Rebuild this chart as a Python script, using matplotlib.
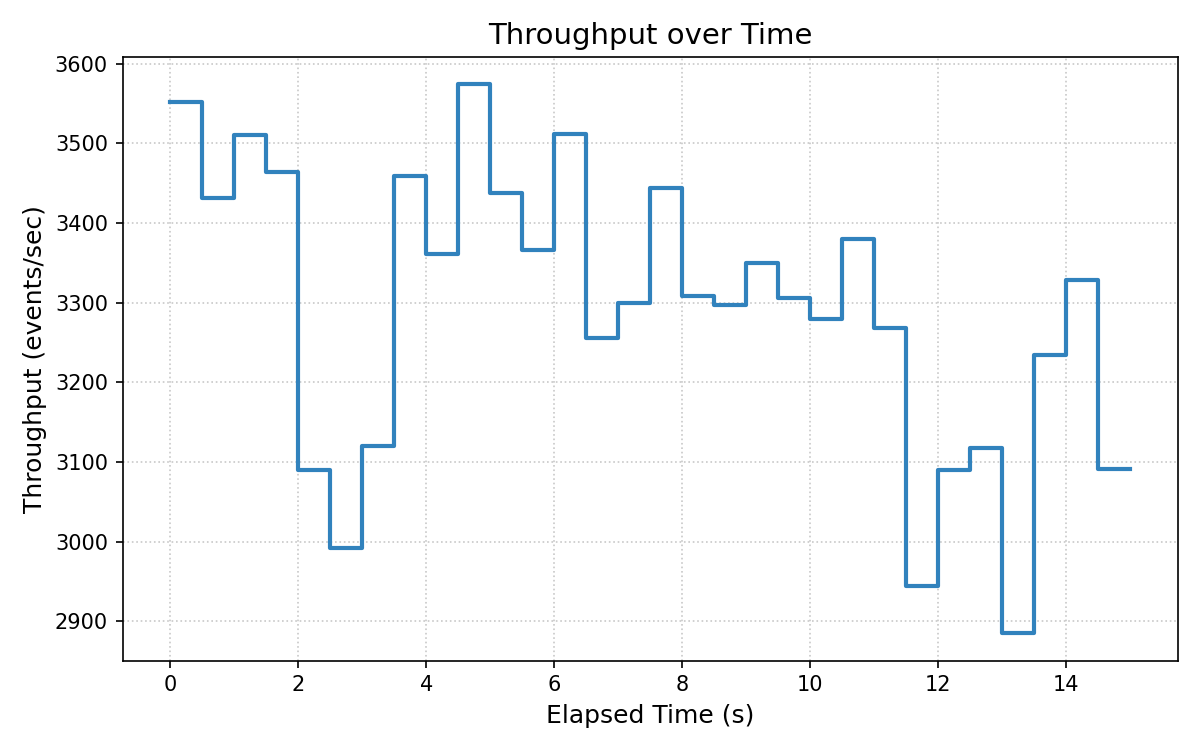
import numpy as np
import matplotlib
matplotlib.use("Agg")
import matplotlib.pyplot as plt

# throughput sampled every 0.5 s
elapsed = np.arange(0, 15.5, 0.5)
throughput = [3552, 3432, 3511, 3464, 3090, 2992, 3120, 3459, 3361, 3574,
              3438, 3366, 3512, 3256, 3299, 3444, 3308, 3297, 3350, 3306,
              3280, 3380, 3268, 2944, 3090, 3118, 2885, 3234, 3329, 3091]
throughput = throughput + [throughput[-1]]

fig, ax = plt.subplots(figsize=(8, 5), dpi=150)
ax.step(elapsed, throughput, where="post", color="#3182bd", linewidth=2)
ax.set_title("Throughput over Time", fontsize=14)
ax.set_xlabel("Elapsed Time (s)", fontsize=12)
ax.set_ylabel("Throughput (events/sec)", fontsize=12)
ax.grid(True, linestyle=":", color="#bbbbbb", linewidth=0.8, alpha=0.8)
plt.tight_layout()
plt.savefig("out.png", dpi=150)
